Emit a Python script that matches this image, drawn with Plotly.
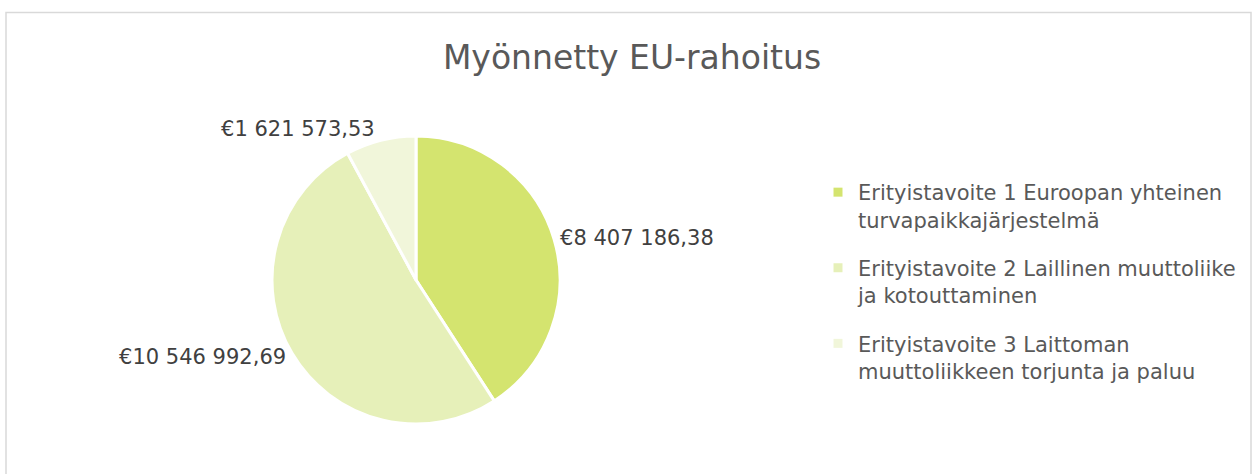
import plotly.graph_objects as go

labels = [
    "Erityistavoite 1 Euroopan yhteinen<br>turvapaikkajärjestelmä",
    "Erityistavoite 2 Laillinen muuttoliike<br>ja kotouttaminen",
    "Erityistavoite 3 Laittoman<br>muuttoliikkeen torjunta ja paluu",
]
values = [8407186.38, 10546992.69, 1621573.53]
colors = ["#d4e46f", "#e6f0b9", "#f1f6da"]
title_text = "Myönnetty EU-rahoitus"

W, H = 1254, 474
cx, cy, r = 416, 280, 144

fig = go.Figure()
fig.add_trace(go.Pie(
    labels=labels,
    values=values,
    sort=False,
    direction="clockwise",
    rotation=0,
    marker=dict(colors=colors, line=dict(color="white", width=3)),
    textposition="outside",
    texttemplate="€%{value:,.2f}",
    textfont=dict(size=21, color="#404040", family="DejaVu Sans"),
    domain=dict(x=[(cx - r) / W, (cx + r) / W], y=[1 - (cy + r) / H, 1 - (cy - r) / H]),
    hoverinfo="label+value",
    showlegend=False,
))

# legend entries (one group per category so the groups can be spaced)
for i, (lab, col) in enumerate(zip(labels, colors)):
    fig.add_trace(go.Scatter(
        x=[None], y=[None], mode="markers", name=lab,
        marker=dict(symbol="square", size=9, color=col),
        legendgroup=f"g{i}", hoverinfo="skip",
    ))

fig.update_layout(
    width=W, height=H,
    margin=dict(l=0, r=0, t=0, b=0),
    separators=", ",
    paper_bgcolor="white",
    plot_bgcolor="rgba(0,0,0,0)",
    xaxis=dict(visible=False),
    yaxis=dict(visible=False),
    font=dict(family="DejaVu Sans", color="#595959"),
    title=dict(text=title_text, x=0.504, xanchor="center", y=1 - 57 / H, yanchor="middle",
               font=dict(size=33, color="#595959", family="DejaVu Sans")),
    legend=dict(x=818 / W, y=1 - 172 / H, xanchor="left", yanchor="top",
                font=dict(size=21, color="#595959", family="DejaVu Sans"),
                valign="top", itemwidth=30, traceorder="grouped", tracegroupgap=18),
    shapes=[dict(type="rect", xref="paper", yref="paper",
                 x0=6 / W, x1=1251 / W, y0=-0.05, y1=1 - 12.5 / H,
                 line=dict(color="#d9d9d9", width=1.5), fillcolor="rgba(0,0,0,0)")],
)

fig.write_html("out.html", config={"displayModeBar": False},
               post_script="document.body.style.margin='0';")
